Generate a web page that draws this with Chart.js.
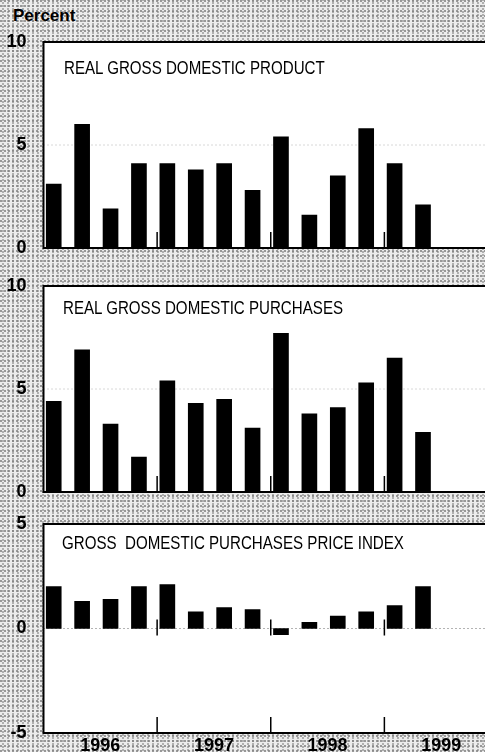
<!DOCTYPE html>
<html>
<head>
<meta charset="utf-8">
<script src="https://cdn.jsdelivr.net/npm/chart.js@4.4.0/dist/chart.umd.min.js"></script>
<style>
    html, body {
        margin: 0;
        padding: 0;
        width: 485px;
        height: 752px;
        overflow: hidden;
    }
    body {
        position: relative;
        background:
            radial-gradient(circle at 1px 1px, #7a7a7a 0.6px, transparent 1px) 0 0 / 4px 5px,
            radial-gradient(circle at 1px 1px, #999 0.6px, transparent 1px) 2px 2px / 5px 3px,
            #ececec;
        font-family: "Liberation Sans", Arial, Helvetica, sans-serif;
    }
    canvas {
        position: absolute;
        left: 0;
    }
    .unit {
        position: absolute;
        left: 13px;
        top: 7px;
        font-size: 17px;
        font-weight: bold;
        line-height: 1;
    }
    .panel-title {
        position: absolute;
        font-size: 18px;
        line-height: 1;
        white-space: pre;
        transform: scaleX(0.84);
        transform-origin: 0 0;
    }
</style>
</head>
<body>

<div class="unit">Percent</div>

<canvas id="chart1" width="498" height="230" style="top:30px"></canvas>
<canvas id="chart2" width="498" height="230" style="top:274px"></canvas>
<canvas id="chart3" width="498" height="250" style="top:512px"></canvas>

<div class="panel-title" style="left:64px; top:59px">REAL GROSS DOMESTIC PRODUCT</div>
<div class="panel-title" style="left:63px; top:299px">REAL GROSS DOMESTIC PURCHASES</div>
<div class="panel-title" style="left:62px; top:534px">GROSS  DOMESTIC PURCHASES PRICE INDEX</div>

<script>
// quarterly percent changes, 1996 Q1 - 1999 Q2
const quarters = ['1996 Q1', '1996 Q2', '1996 Q3', '1996 Q4',
    '1997 Q1', '1997 Q2', '1997 Q3', '1997 Q4',
    '1998 Q1', '1998 Q2', '1998 Q3', '1998 Q4',
    '1999 Q1', '1999 Q2'];
const years = ['1996', '1997', '1998', '1999'];

const realGdp = [3.1, 6.0, 1.9, 4.1, 4.1, 3.8, 4.1, 2.8, 5.4, 1.6, 3.5, 5.8, 4.1, 2.1];
const realPurchases = [4.4, 6.9, 3.3, 1.7, 5.4, 4.3, 4.5, 3.1, 7.7, 3.8, 4.1, 5.3, 6.5, 2.9];
const priceIndex = [2.0, 1.3, 1.4, 2.0, 2.1, 0.8, 1.0, 0.9, -0.3, 0.3, 0.6, 0.8, 1.1, 2.0];

const tickFont = {family: '"Liberation Sans", Arial, sans-serif', size: 18, weight: 'bold'};

// white box, dotted reference line, frame and year ticks
const panelPlugin = {
    id: 'panel',
    beforeDraw(chart) {
        const a = chart.chartArea;
        const ctx = chart.ctx;
        ctx.save();
        ctx.fillStyle = '#fff';
        ctx.fillRect(a.left, a.top, a.right - a.left, a.bottom - a.top);
        ctx.restore();
    },
    beforeDatasetsDraw(chart, args, opts) {
        const a = chart.chartArea;
        const ctx = chart.ctx;
        const y = chart.scales.y.getPixelForValue(opts.refLine);
        ctx.save();
        ctx.strokeStyle = opts.refColor;
        ctx.lineWidth = 1;
        ctx.setLineDash([1, 3]);
        ctx.beginPath();
        ctx.moveTo(a.left, y);
        ctx.lineTo(a.right, y);
        ctx.stroke();
        ctx.restore();
    },
    afterDatasetsDraw(chart, args, opts) {
        const a = chart.chartArea;
        const ctx = chart.ctx;
        const x = chart.scales.x;
        ctx.save();
        ctx.strokeStyle = '#000';
        ctx.lineWidth = 2;
        ctx.beginPath();
        ctx.moveTo(a.right + 5, a.top);
        ctx.lineTo(a.left, a.top);
        ctx.lineTo(a.left, a.bottom);
        ctx.lineTo(a.right + 5, a.bottom);
        ctx.stroke();

        // year boundaries
        ctx.lineWidth = 1.5;
        [4, 8, 12].forEach(q => {
            const px = x.getPixelForValue(q);
            ctx.beginPath();
            ctx.moveTo(px, a.bottom);
            ctx.lineTo(px, a.bottom - 16);
            if (opts.zeroTicks) {
                const z = chart.scales.y.getPixelForValue(0);
                ctx.moveTo(px, z - 9);
                ctx.lineTo(px, z + 7);
            }
            ctx.stroke();
        });
        ctx.restore();
    }
};

function makePanel(id, values, yMin, yMax, refLine, refColor, showYears) {
    const ctx = document.getElementById(id);
    return new Chart(ctx, {
        type: 'bar',
        data: {
            datasets: [{
                label: id,
                data: values.map((v, i) => ({x: i + 0.36, y: v, q: quarters[i]})),
                backgroundColor: '#000',
                borderWidth: 0,
                barThickness: 15
            }]
        },
        options: {
            responsive: false,
            animation: false,
            devicePixelRatio: 1,
            layout: {
                padding: {top: 12, left: 0, right: 0, bottom: showYears ? 5 : 12}
            },
            plugins: {
                legend: {display: false},
                tooltip: {enabled: false},
                panel: {refLine: refLine, refColor: refColor, zeroTicks: showYears}
            },
            scales: {
                x: {
                    type: 'linear',
                    offset: false,
                    min: 0,
                    max: 16,
                    display: showYears,
                    grid: {display: false, drawTicks: false},
                    border: {display: false},
                    afterBuildTicks(scale) {
                        scale.ticks = years.map((y, i) => ({value: 2 + i * 4}));
                    },
                    afterFit(scale) {
                        scale.height = showYears ? 24 : 0;
                        scale.paddingLeft = 0;
                        scale.paddingRight = 0;
                    },
                    ticks: {
                        autoSkip: false,
                        maxRotation: 0,
                        padding: 2,
                        color: '#000',
                        font: tickFont,
                        callback: (v, i) => years[i]
                    }
                },
                y: {
                    min: yMin,
                    max: yMax,
                    grid: {display: false, drawTicks: false},
                    border: {display: false},
                    afterFit(scale) {
                        // fixed axis width, and no extra room for the end labels
                        scale.width = 43.5;
                        scale.paddingTop = 0;
                        scale.paddingBottom = 0;
                    },
                    ticks: {
                        stepSize: 5,
                        padding: 17,
                        color: '#000',
                        font: tickFont
                    }
                }
            }
        },
        plugins: [panelPlugin]
    });
}

makePanel('chart1', realGdp, 0, 10, 5, '#b0b0b0', false);
makePanel('chart2', realPurchases, 0, 10, 5, '#b0b0b0', false);
makePanel('chart3', priceIndex, -5, 5, 0, '#666', true);
</script>
</body>
</html>
